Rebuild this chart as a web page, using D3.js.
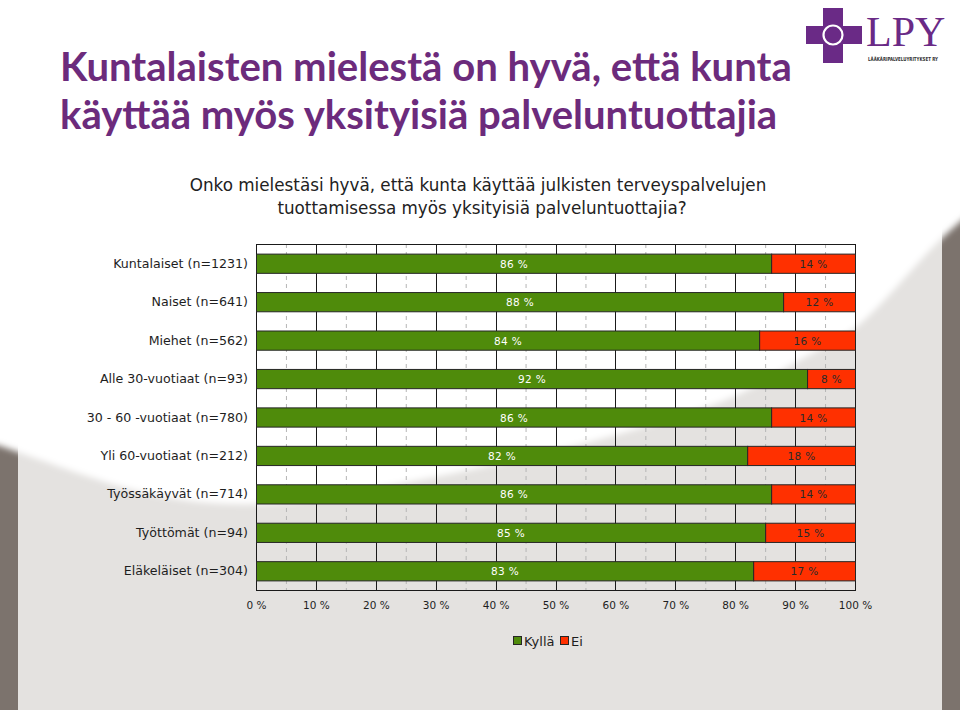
<!DOCTYPE html>
<html>
<head>
<meta charset="utf-8">
<script src="https://cdn.jsdelivr.net/npm/d3@7/dist/d3.min.js"></script>
<style>
  html, body { margin: 0; padding: 0; background: #ffffff; }
  svg { display: block; }
</style>
</head>
<body>
<svg id="chart" width="960" height="710"></svg>
<script>
// ---------- data ----------
const titleLines = ["Kuntalaisten mielestä on hyvä, että kunta", "käyttää myös yksityisiä palveluntuottajia"];
const subtitleLines = ["Onko mielestäsi hyvä, että kunta käyttää julkisten terveyspalvelujen", "tuottamisessa myös yksityisiä palveluntuottajia?"];
const categories = [
  "Kuntalaiset (n=1231)",
  "Naiset (n=641)",
  "Miehet (n=562)",
  "Alle 30-vuotiaat (n=93)",
  "30 - 60 -vuotiaat (n=780)",
  "Yli 60-vuotiaat (n=212)",
  "Työssäkäyvät (n=714)",
  "Työttömät (n=94)",
  "Eläkeläiset (n=304)"
];
const kylla = [86, 88, 84, 92, 86, 82, 86, 85, 83];
const ei    = [14, 12, 16,  8, 14, 18, 14, 15, 17];
const seriesNames = ["Kyllä", "Ei"];
const xTicks = [0, 10, 20, 30, 40, 50, 60, 70, 80, 90, 100];
const minorTicks = [5, 15, 25, 35, 45, 55, 65, 75, 85, 95];

// ---------- styles ----------
const colors = { "Kyllä": "#4f8b0b", "Ei": "#ff3000" };
const purple = "#6c2b7c";
const labelFont = "'DejaVu Sans', Verdana, sans-serif";

const svg = d3.select("#chart");
const W = 960, H = 710;

// ---------- background ----------
svg.append("rect").attr("x", 0).attr("y", 0).attr("width", W).attr("height", H).attr("fill", "#7c736d");
svg.append("rect").attr("x", 18).attr("y", 0).attr("width", W - 36).attr("height", H).attr("fill", "#e4e2e0");
const defs = svg.append("defs");
defs.append("filter").attr("id", "soft").attr("x", "-5%").attr("y", "-5%").attr("width", "110%").attr("height", "110%")
  .append("feGaussianBlur").attr("stdDeviation", 3);
const wavePts = [[-20, 440], [0, 446], [150, 494], [256, 504], [430, 478], [612, 436], [735, 396], [796, 362], [855, 328], [940, 240], [980, 205]];
const waveLine = d3.line().curve(d3.curveCatmullRom);
const waveD = waveLine(wavePts) + " L980,-20 L-20,-20 Z";
svg.append("path").attr("d", waveD).attr("fill", "#ffffff").attr("filter", "url(#soft)");

// ---------- logo ----------
const logo = svg.append("g");
logo.append("path")
  .attr("d", "M823,8 H843 V26 H862 V44 H843 V63 H823 V44 H806 V26 H823 Z")
  .attr("fill", "#6a2a86");
logo.append("circle").attr("cx", 833).attr("cy", 35).attr("r", 9.5)
  .attr("fill", "#6a2a86").attr("stroke", "#ffffff").attr("stroke-width", 2.2);
logo.append("text").attr("x", 866).attr("y", 46)
  .attr("font-family", "'Liberation Serif', 'DejaVu Serif', serif")
  .attr("font-size", 42).attr("fill", "#6a2a86").text("LPY");
logo.append("text").attr("x", 868).attr("y", 61)
  .attr("font-family", "'Liberation Sans Narrow', 'DejaVu Sans Condensed', sans-serif")
  .attr("font-weight", "bold").attr("font-size", 5.5).attr("fill", "#333")
  .attr("textLength", 70).attr("lengthAdjust", "spacingAndGlyphs")
  .text("LÄÄKÄRIPALVELUYRITYKSET RY");

function fitWidth(sel, target) {
  const fs = +sel.attr("font-size");
  const w = sel.node().getComputedTextLength();
  sel.attr("font-size", fs * target / w);
}

// ---------- title ----------
const t1 = svg.append("text").attr("x", 60).attr("y", 81)
  .attr("font-family", "Lato, 'Open Sans', sans-serif").attr("font-weight", "bold")
  .attr("font-size", 36).attr("fill", purple).text(titleLines[0]);
fitWidth(t1, 732);
const t2 = svg.append("text").attr("x", 60).attr("y", 129)
  .attr("font-family", "Lato, 'Open Sans', sans-serif").attr("font-weight", "bold")
  .attr("font-size", +t1.attr("font-size")).attr("fill", purple).text(titleLines[1]);

// ---------- subtitle ----------
const s1 = svg.append("text").attr("x", 478).attr("y", 191).attr("text-anchor", "middle")
  .attr("font-family", labelFont).attr("font-size", 15).attr("fill", "#222").text(subtitleLines[0]);
fitWidth(s1, 577);
svg.append("text").attr("x", 482).attr("y", 214).attr("text-anchor", "middle")
  .attr("font-family", labelFont).attr("font-size", +s1.attr("font-size")).attr("fill", "#222").text(subtitleLines[1]);

// ---------- chart ----------
const plot = { left: 256, right: 855, top: 244, bottom: 590 };
const x = d3.scaleLinear().domain([0, 100]).range([plot.left, plot.right]);
const y = d3.scaleBand().domain(categories).range([plot.top, plot.bottom]).paddingInner(0.5).paddingOuter(0.25);

const g = svg.append("g");

// minor dashed gridlines
g.selectAll(".minor").data(minorTicks).join("line")
  .attr("x1", d => x(d) + 0.5).attr("x2", d => x(d) + 0.5)
  .attr("y1", plot.top).attr("y2", plot.bottom)
  .attr("stroke", "#b5b5b5").attr("stroke-width", 1).attr("stroke-dasharray", "4,4");
// major gridlines
g.selectAll(".major").data(xTicks).join("line")
  .attr("x1", d => Math.round(x(d)) + 0.5).attr("x2", d => Math.round(x(d)) + 0.5)
  .attr("y1", plot.top).attr("y2", plot.bottom)
  .attr("stroke", "#1a1a1a").attr("stroke-width", 1);
// plot frame
g.append("rect").attr("x", plot.left + 0.5).attr("y", plot.top + 0.5)
  .attr("width", plot.right - plot.left).attr("height", plot.bottom - plot.top)
  .attr("fill", "none").attr("stroke", "#1a1a1a").attr("stroke-width", 1);

// stacked bars
const rows = categories.map((c, i) => ({ cat: c, values: [kylla[i], ei[i]] }));
const stackData = [];
rows.forEach(r => {
  let acc = 0;
  r.values.forEach((v, j) => {
    stackData.push({ cat: r.cat, series: seriesNames[j], v, x0: acc, x1: acc + v });
    acc += v;
  });
});

g.selectAll(".bar").data(stackData).join("rect")
  .attr("x", d => x(d.x0) + 0.5)
  .attr("y", d => y(d.cat) + 0.5)
  .attr("width", d => x(d.x1) - x(d.x0))
  .attr("height", y.bandwidth())
  .attr("fill", d => colors[d.series])
  .attr("stroke", "#262626").attr("stroke-width", 1);

g.selectAll(".vlabel").data(stackData).join("text")
  .attr("x", d => (x(d.x0) + x(d.x1)) / 2 + 0.5)
  .attr("y", d => y(d.cat) + y.bandwidth() / 2 + 4.5)
  .attr("text-anchor", "middle")
  .attr("font-family", labelFont).attr("font-size", 10.5).attr("letter-spacing", 0.4)
  .attr("fill", d => d.series === "Kyllä" ? "#ffffff" : "#2a2a2a")
  .text(d => d.v + " %");

// category labels
const catLabels = g.selectAll(".cat").data(categories).join("text")
  .attr("x", 248).attr("y", d => y(d) + y.bandwidth() / 2 + 4.5)
  .attr("text-anchor", "end")
  .attr("font-family", labelFont).attr("font-size", 12).attr("fill", "#1e1e1e")
  .text(d => d);
{
  const n = catLabels.filter((d, i) => i === 0);
  const w = n.node().getComputedTextLength();
  catLabels.attr("font-size", 12 * 135 / w);
}

// x axis labels
g.selectAll(".xt").data(xTicks).join("text")
  .attr("x", d => x(d) + 0.5).attr("y", 609)
  .attr("text-anchor", "middle")
  .attr("font-family", labelFont).attr("font-size", 10.5).attr("fill", "#1e1e1e")
  .text(d => d + " %");

// legend
const legendItems = [{ name: seriesNames[0], x: 513 }, { name: seriesNames[1], x: 560 }];
const lg = svg.append("g").selectAll("g").data(legendItems).join("g")
  .attr("transform", d => `translate(${d.x},0)`);
lg.append("rect").attr("x", 0.5).attr("y", 636.5).attr("width", 8).attr("height", 8)
  .attr("fill", d => colors[d.name]).attr("stroke", "#262626").attr("stroke-width", 1);
lg.append("text").attr("x", 11).attr("y", 645.5)
  .attr("font-family", labelFont).attr("font-size", 13).attr("fill", "#1e1e1e")
  .text(d => d.name);
</script>
</body>
</html>
